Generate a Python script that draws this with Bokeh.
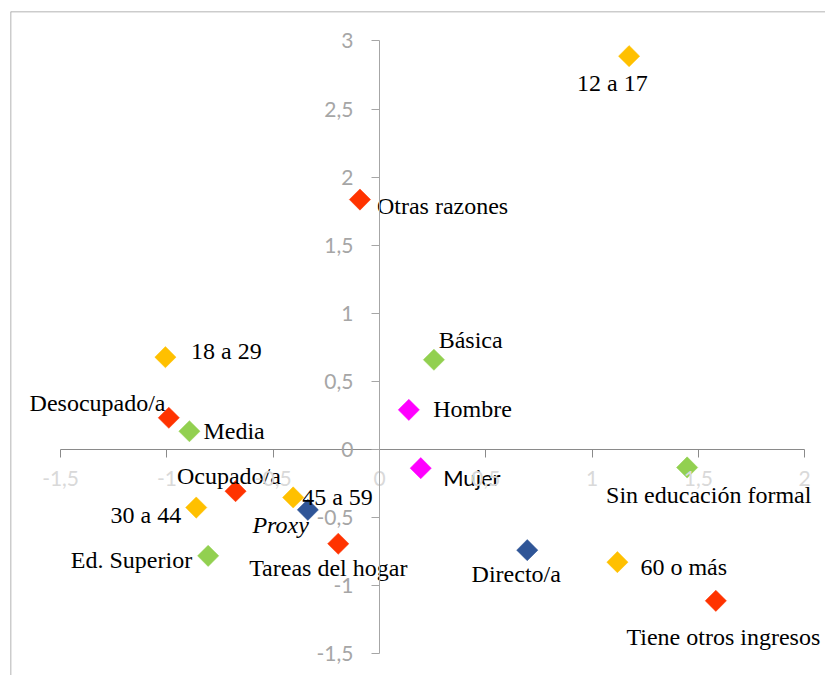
import numpy as np
from bokeh.plotting import figure
from bokeh.models import ColumnDataSource, LinearAxis, FixedTicker, Span, Range1d
from bokeh.core.properties import value
from bokeh.embed import file_html
from bokeh.resources import INLINE

# ---- data ----
labels = ["12 a 17", "Otras razones", "18 a 29", "Desocupado/a", "Media", "Ocupado/a",
          "30 a 44", "45 a 59", "Proxy", "Tareas del hogar", "Ed. Superior", "Hombre",
          "Mujer", "Básica", "Sin educación formal", "Directo/a", "60 o más",
          "Tiene otros ingresos"]
x_vals = [1.174, -0.092, -1.007, -0.991, -0.894, -0.677, -0.862, -0.406, -0.337, -0.194,
          -0.806, 0.138, 0.194, 0.256, 1.447, 0.695, 1.119, 1.582]
y_vals = [2.888, 1.835, 0.678, 0.233, 0.134, -0.306, -0.426, -0.352, -0.443, -0.692,
          -0.781, 0.291, -0.137, 0.659, -0.132, -0.739, -0.827, -1.111]
groups = ["edad", "situacion", "edad", "situacion", "educacion", "situacion",
          "edad", "edad", "informante", "situacion", "educacion", "sexo",
          "sexo", "educacion", "educacion", "informante", "edad", "situacion"]

x_ticks = [-1.5, -1, -0.5, 0, 0.5, 1, 1.5, 2]
x_tick_labels = ["-1,5", "-1", "-0,5", "0", "0,5", "1", "1,5", "2"]
y_ticks = [-1.5, -1, -0.5, 0, 0.5, 1, 1.5, 2, 2.5, 3]
y_tick_labels = ["-1,5", "-1", "-0,5", "0", "0,5", "1", "1,5", "2", "2,5", "3"]

# ---- styles ----
group_colors = {"edad": "#FFC000", "situacion": "#FF3300", "educacion": "#92D050",
                "sexo": "#FF00FF", "informante": "#2F5597"}
# label placement: (dx px, dy px, align, font kind)
placement = {
    "12 a 17": (-16.7, 27, "center", "serif"),
    "Otras razones": (17, 6, "left", "serif"),
    "18 a 29": (25.7, -6, "left", "serif"),
    "Desocupado/a": (-3.3, -15, "right", "serif"),
    "Media": (14, -0.7, "left", "serif"),
    "Ocupado/a": (-6.7, -15, "center", "serif"),
    "30 a 44": (-15, 7.5, "right", "serif"),
    "45 a 59": (9, 0, "left", "serif"),
    "Proxy": (1, 14.7, "right", "italic"),
    "Tareas del hogar": (-10, 24.7, "center", "serif"),
    "Ed. Superior": (-16, 4.4, "right", "serif"),
    "Hombre": (24.4, -1.3, "left", "serif"),
    "Mujer": (22.4, 9.8, "left", "sans"),
    "Básica": (4.7, -19.3, "left", "serif"),
    "Sin educación formal": (21.6, 28, "center", "serif"),
    "Directo/a": (-11, 24.3, "center", "serif"),
    "60 o más": (23, 5, "left", "serif"),
    "Tiene otros ingresos": (7.5, 36, "center", "serif"),
}

W, H = 825, 675
# pixel scale (reference): 212.6 px per x unit, 136.2 px per y unit; origin at (379, 449)
px_x, px_y = 212.6, 136.2
ox, oy = 379.0, 449.0
fl, ft = 10, 11
x0 = (fl - ox) / px_x
x1 = (W - ox) / px_x
y1 = (oy - ft) / px_y
y0 = (oy - H) / px_y

p = figure(width=W, height=H, output_backend="svg", toolbar_location=None,
           x_axis_type=None, y_axis_type=None,
           x_range=Range1d(x0, x1), y_range=Range1d(y0, y1),
           min_border_left=fl, min_border_top=ft, min_border_right=0, min_border_bottom=0)
p.outline_line_color = None
p.xgrid.visible = False
p.ygrid.visible = False
p.background_fill_color = "white"
p.border_fill_color = "white"

# chart-area border (left and top visible)
p.add_layout(Span(location=x0, dimension="height", line_color="#9a9a9a", line_width=1.5))
p.add_layout(Span(location=y1, dimension="width", line_color="#9a9a9a", line_width=1.5))

xaxis = LinearAxis(fixed_location=0, bounds=(x_ticks[0], x_ticks[-1]),
                   ticker=FixedTicker(ticks=x_ticks),
                   major_label_overrides={t: l for t, l in zip(x_ticks, x_tick_labels)})
xaxis.axis_line_color = "#8a8a8a"
xaxis.major_tick_line_color = "#8a8a8a"
xaxis.major_tick_out = 8
xaxis.major_tick_in = 0
xaxis.minor_tick_out = 0
xaxis.minor_tick_in = 0
xaxis.major_label_text_color = "#D9D9D9"
xaxis.major_label_text_font = "Lato"
xaxis.major_label_text_font_size = "21px"
xaxis.major_label_standoff = 13
p.add_layout(xaxis, "below")

yaxis = LinearAxis(fixed_location=0, bounds=(y_ticks[0], y_ticks[-1]),
                   ticker=FixedTicker(ticks=y_ticks),
                   major_label_overrides={t: l for t, l in zip(y_ticks, y_tick_labels)})
yaxis.axis_line_color = "#A6A6A6"
yaxis.major_tick_line_color = "#A6A6A6"
yaxis.major_tick_out = 8
yaxis.major_tick_in = 0
yaxis.minor_tick_out = 0
yaxis.minor_tick_in = 0
yaxis.major_label_text_color = "#A6A6A6"
yaxis.major_label_text_font = "Lato"
yaxis.major_label_text_font_size = "21px"
yaxis.major_label_standoff = 18
p.add_layout(yaxis, "left")

colors = [group_colors[g] for g in groups]
pts = ColumnDataSource(dict(x=x_vals, y=y_vals, color=colors))
p.scatter("x", "y", source=pts, marker="square", size=15, angle=np.pi / 4,
          fill_color="color", line_color="color", line_width=0.5)

fonts = {"serif": ("Liberation Serif", "normal", "24px"),
         "italic": ("Liberation Serif", "italic", "24px"),
         "sans": ("Lato", "normal", "22px")}
for kind, (fnt, style, size) in fonts.items():
    idx = [i for i, l in enumerate(labels) if placement[l][3] == kind]
    src = ColumnDataSource(dict(
        x=[x_vals[i] for i in idx], y=[y_vals[i] for i in idx],
        text=[labels[i] for i in idx],
        dx=[placement[labels[i]][0] for i in idx],
        dy=[placement[labels[i]][1] for i in idx],
        align=[placement[labels[i]][2] for i in idx]))
    p.text("x", "y", text="text", source=src, x_offset="dx", y_offset="dy",
           text_align="align", text_baseline="middle",
           text_font=value(fnt), text_font_style=style, text_font_size=size,
           text_color="black")

open("out.html", "w").write(file_html(p, INLINE))
